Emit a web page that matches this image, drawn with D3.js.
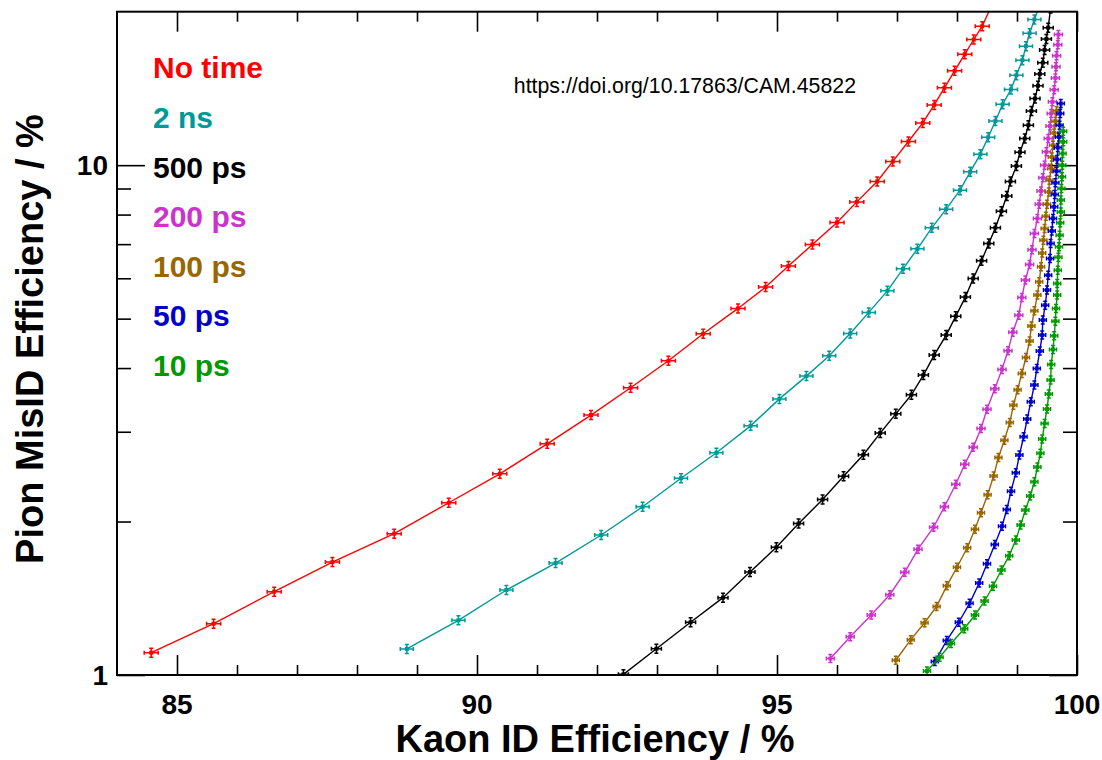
<!DOCTYPE html>
<html><head><meta charset="utf-8">
<script src="https://cdn.jsdelivr.net/npm/d3@7"></script>
<style>body{margin:0;background:#fff}svg{display:block}</style>
</head><body>
<script>
// ---- data ----
const categories = ["No time","2 ns","500 ps","200 ps","100 ps","50 ps","10 ps"];
const colors = ["#ff0000","#009999","#000000","#cc33cc","#996600","#0000cc","#009900"];
const xTickValues = [85,90,95,100];
const yTickValues = [1,10];
const xTitle = "Kaon ID Efficiency / %";
const yTitle = "Pion MisID Efficiency / %";
const doiText = "https://doi.org/10.17863/CAM.45822";

const noTime = [[84.57,1.106],[85.61,1.261],[86.62,1.457],[87.59,1.665],[88.62,1.893],[89.53,2.177],[90.38,2.481],[91.17,2.841],[91.90,3.234],[92.56,3.659],[93.19,4.133],[93.77,4.670],[94.35,5.236],[94.81,5.766],[95.19,6.339],[95.59,6.990],[96.00,7.721],[96.33,8.472],[96.67,9.290],[96.93,10.17],[97.19,11.13],[97.43,12.10],[97.62,13.13],[97.79,14.18],[97.96,15.31],[98.13,16.51],[98.28,17.64],[98.42,18.73],[98.58,20.6]];
const ns2 = [[88.83,1.125],[89.69,1.280],[90.49,1.468],[91.31,1.658],[92.07,1.882],[92.76,2.138],[93.40,2.432],[93.99,2.728],[94.56,3.081],[95.04,3.480],[95.49,3.857],[95.87,4.227],[96.22,4.677],[96.53,5.143],[96.84,5.669],[97.10,6.261],[97.34,6.853],[97.58,7.535],[97.82,8.199],[98.05,8.933],[98.22,9.703],[98.39,10.51],[98.52,11.34],[98.64,12.21],[98.76,13.16],[98.90,14.08],[98.99,15.01],[99.09,16.07],[99.15,17.12],[99.21,18.15],[99.29,19.31],[99.37,20.5]];
const ps500 = [[92.44,1.003],[92.99,1.126],[93.56,1.269],[94.10,1.418],[94.55,1.592],[94.99,1.780],[95.36,1.982],[95.76,2.209],[96.11,2.453],[96.44,2.704],[96.72,2.982],[96.98,3.253],[97.24,3.545],[97.44,3.875],[97.62,4.241],[97.82,4.642],[97.98,5.057],[98.14,5.511],[98.27,5.996],[98.41,6.497],[98.53,7.023],[98.64,7.541],[98.74,8.125],[98.83,8.703],[98.89,9.294],[98.99,9.968],[99.05,10.60],[99.13,11.28],[99.19,11.98],[99.24,12.77],[99.30,13.51],[99.35,14.32],[99.38,15.10],[99.43,15.89],[99.46,16.83],[99.49,17.68],[99.52,18.61],[99.56,20.3]];
const ps200 = [[95.89,1.077],[96.22,1.189],[96.57,1.311],[96.88,1.437],[97.13,1.590],[97.35,1.765],[97.61,1.949],[97.79,2.138],[97.98,2.366],[98.13,2.590],[98.27,2.796],[98.40,3.045],[98.50,3.320],[98.63,3.642],[98.75,3.976],[98.85,4.324],[98.93,4.704],[99.03,5.080],[99.08,5.503],[99.14,5.951],[99.21,6.388],[99.25,6.828],[99.29,7.347],[99.34,7.864],[99.37,8.386],[99.40,8.903],[99.43,9.443],[99.46,10.00],[99.49,10.62],[99.52,11.28],[99.55,11.93],[99.57,12.63],[99.59,13.31],[99.62,14.06],[99.64,14.83],[99.65,15.59],[99.66,16.40],[99.68,17.23],[99.69,18.04]];
const ps100 = [[96.98,1.069],[97.23,1.173],[97.46,1.266],[97.66,1.363],[97.83,1.496],[98.00,1.627],[98.17,1.777],[98.30,1.931],[98.40,2.081],[98.51,2.256],[98.61,2.456],[98.69,2.670],[98.79,2.886],[98.88,3.127],[98.94,3.383],[99.01,3.626],[99.08,3.905],[99.15,4.196],[99.21,4.518],[99.24,4.834],[99.29,5.179],[99.34,5.561],[99.37,5.905],[99.40,6.318],[99.42,6.722],[99.44,7.128],[99.46,7.513],[99.48,7.943],[99.50,8.386],[99.53,8.863],[99.54,9.346],[99.57,9.852],[99.58,10.38],[99.60,10.94],[99.62,11.57],[99.64,12.20],[99.66,12.79]];
const ps50 = [[97.63,1.063],[97.83,1.169],[98.03,1.269],[98.21,1.382],[98.37,1.515],[98.50,1.653],[98.63,1.803],[98.75,1.958],[98.83,2.111],[98.90,2.292],[98.98,2.492],[99.04,2.700],[99.11,2.933],[99.17,3.177],[99.23,3.435],[99.29,3.707],[99.33,3.994],[99.38,4.318],[99.42,4.642],[99.43,4.967],[99.47,5.314],[99.50,5.688],[99.52,6.085],[99.55,6.557],[99.56,7.023],[99.58,7.432],[99.60,7.864],[99.62,8.285],[99.63,8.761],[99.64,9.233],[99.66,9.732],[99.67,10.26],[99.68,10.83],[99.70,11.36],[99.71,11.98],[99.72,12.63],[99.73,13.21]];
const ps10 = [[97.50,1.018],[97.71,1.083],[97.90,1.153],[98.12,1.232],[98.30,1.311],[98.46,1.397],[98.60,1.493],[98.74,1.607],[98.87,1.714],[98.98,1.839],[99.06,1.968],[99.14,2.106],[99.22,2.244],[99.29,2.393],[99.34,2.558],[99.39,2.721],[99.42,2.902],[99.46,3.115],[99.50,3.323],[99.53,3.556],[99.56,3.788],[99.57,4.067],[99.60,4.351],[99.62,4.627],[99.64,4.944],[99.65,5.236],[99.67,5.561],[99.67,5.861],[99.68,6.224],[99.69,6.601],[99.70,6.916],[99.71,7.290],[99.72,7.706],[99.73,8.098],[99.73,8.540],[99.74,9.001],[99.75,9.486],[99.755,10.00],[99.76,10.54],[99.77,11.11],[99.77,11.66]];
const seriesData = [noTime, ns2, ps500, ps200, ps100, ps50, ps10];

// ---- layout / style ----
const W = 1102, H = 760;
const L = 117, R = 1077, T = 11.7, B = 675;
const markerHW = [7, 6.5, 5, 4, 3.5, 3.5, 3.5];
const markerVH = [4.5, 4.5, 4.5, 4, 4, 4, 4];

const svg = d3.select("body").append("svg").attr("width", W).attr("height", H);
svg.append("rect").attr("width", W).attr("height", H).attr("fill", "#fff");

const x = d3.scaleLinear().domain([84, 100]).range([L, R]);
const y = d3.scaleLog().domain([1, 20]).range([B, T]);

svg.append("clipPath").attr("id", "clip").append("rect")
  .attr("x", L).attr("y", T).attr("width", R - L).attr("height", B - T);

const font = "'Liberation Sans', Arial, Helvetica, sans-serif";

// ticks
const xMinor = d3.range(85, 100, 1).filter(v => !xTickValues.includes(v));
const yMinor = [2,3,4,5,6,7,8,9];

function styleAxis(g) {
  g.select(".domain").remove();
  g.selectAll("line").attr("stroke", "#000").attr("stroke-width", 1.6);
}
svg.append("g").attr("transform", `translate(0,${B})`)
  .call(d3.axisBottom(x).tickValues(xTickValues).tickSize(-20).tickFormat(""))
  .call(styleAxis);
svg.append("g").attr("transform", `translate(0,${B})`)
  .call(d3.axisBottom(x).tickValues(xMinor).tickSize(-10).tickFormat(""))
  .call(styleAxis);
svg.append("g").attr("transform", `translate(0,${T})`)
  .call(d3.axisTop(x).tickValues(xTickValues).tickSize(-20).tickFormat(""))
  .call(styleAxis);
svg.append("g").attr("transform", `translate(0,${T})`)
  .call(d3.axisTop(x).tickValues(xMinor).tickSize(-10).tickFormat(""))
  .call(styleAxis);
svg.append("g").attr("transform", `translate(${L},0)`)
  .call(d3.axisLeft(y).tickValues(yTickValues).tickSize(-28).tickFormat(""))
  .call(styleAxis);
svg.append("g").attr("transform", `translate(${L},0)`)
  .call(d3.axisLeft(y).tickValues(yMinor).tickSize(-14).tickFormat(""))
  .call(styleAxis);
svg.append("g").attr("transform", `translate(${R},0)`)
  .call(d3.axisRight(y).tickValues(yTickValues).tickSize(-28).tickFormat(""))
  .call(styleAxis);
svg.append("g").attr("transform", `translate(${R},0)`)
  .call(d3.axisRight(y).tickValues(yMinor).tickSize(-14).tickFormat(""))
  .call(styleAxis);

// tick labels
svg.append("g").selectAll("text").data(xTickValues).join("text")
  .attr("x", d => x(d)).attr("y", 714).attr("text-anchor", "middle")
  .attr("font-family", font).attr("font-weight", "bold").attr("font-size", 28)
  .text(d => d);
svg.append("g").selectAll("text").data(yTickValues).join("text")
  .attr("x", 108).attr("y", d => y(d) + 10).attr("text-anchor", "end")
  .attr("font-family", font).attr("font-weight", "bold").attr("font-size", 28)
  .text(d => d);

// axis titles
svg.append("text").attr("x", 595).attr("y", 751.5).attr("text-anchor", "middle")
  .attr("font-family", font).attr("font-weight", "bold").attr("font-size", 38)
  .text(xTitle);
svg.append("text").attr("transform", "translate(43,339) rotate(-90)").attr("text-anchor", "middle")
  .attr("font-family", font).attr("font-weight", "bold").attr("font-size", 38)
  .text(yTitle);

// series
const plot = svg.append("g").attr("clip-path", "url(#clip)");
const line = d3.line().x(d => x(d[0])).y(d => y(d[1]));
seriesData.forEach((data, i) => {
  const c = colors[i];
  plot.append("path").datum(data).attr("d", line)
    .attr("fill", "none").attr("stroke", c).attr("stroke-width", 1.4);
  const hw = markerHW[i], vh = markerVH[i];
  const mk = plot.append("g").selectAll("g").data(data).join("g")
    .attr("transform", d => `translate(${x(d[0])},${y(d[1])})`);
  mk.append("path")
    .attr("d", `M${-hw},0H${hw}M0,${-vh}V${vh}M${-hw},-2V2M${hw},-2V2M-2,${-vh}H2M-2,${vh}H2`)
    .attr("stroke", c).attr("stroke-width", 1.5).attr("fill", "none");
  mk.append("rect").attr("x", -2).attr("y", -2).attr("width", 4).attr("height", 4).attr("fill", c);
});

// frame
svg.append("rect").attr("x", L).attr("y", T).attr("width", R - L).attr("height", B - T)
  .attr("fill", "none").attr("stroke", "#000").attr("stroke-width", 2);

// legend
svg.append("g").selectAll("text").data(categories).join("text")
  .attr("x", 153).attr("y", (d, i) => 78.3 + i * 49.6)
  .attr("font-family", font).attr("font-weight", "bold").attr("font-size", 30)
  .attr("fill", (d, i) => colors[i]).text(d => d);

// DOI
svg.append("text").attr("x", 856).attr("y", 93).attr("text-anchor", "end")
  .attr("font-family", font).attr("font-size", 21.3).attr("fill", "#000").text(doiText);
</script>
</body></html>
